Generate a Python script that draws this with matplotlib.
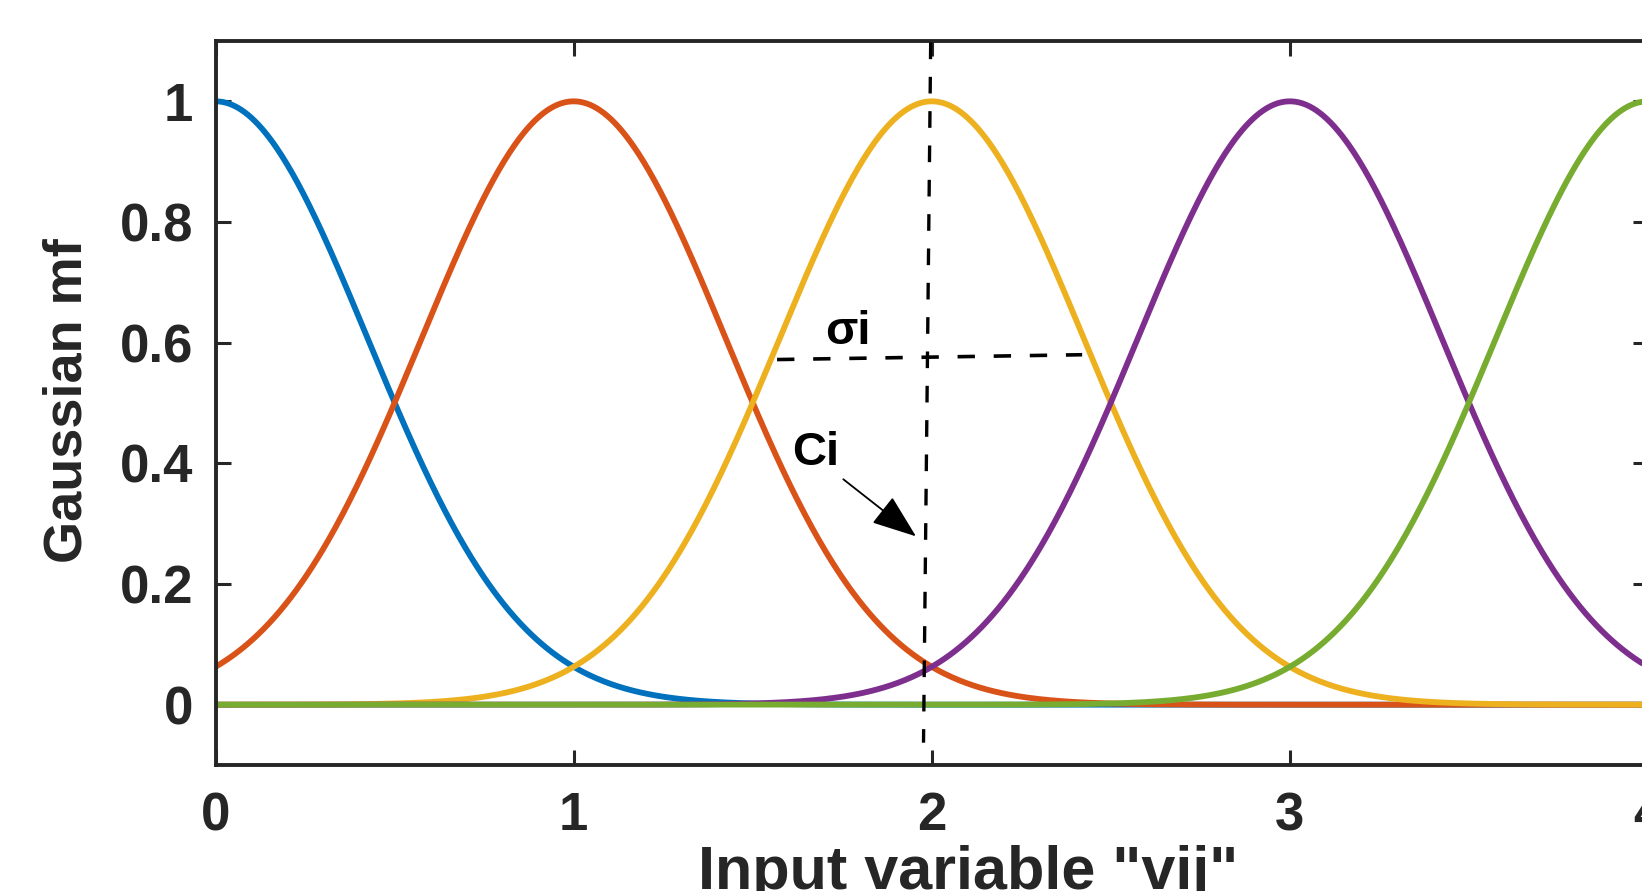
import numpy as np
import matplotlib.pyplot as plt
from matplotlib.ticker import FixedLocator, FixedFormatter

# === DATOS ===
centers = [0, 1, 2, 3, 4]          # centros de las funciones gaussianas
sigma = 0.425                      # ancho comun (cruce en 0.5)
colors = ['#0072BD', '#D95319', '#EDB120', '#7E2F8E', '#77AC30']
x_ticks = [0, 1, 2, 3, 4]
x_tick_labels = ['0', '1', '2', '3', '4']
y_ticks = [0, 0.2, 0.4, 0.6, 0.8, 1.0]
y_tick_labels = ['0', '0.2', '0.4', '0.6', '0.8', '1']

# anotaciones (coordenadas de datos)
ci_line = ([1.997, 1.977], [1.0975, -0.063])
sigma_line = ([1.568, 2.420], [0.572, 0.580])
sigma_text = (1.766, 0.617)
ci_text = (1.677, 0.4165)
arrow_tail = (1.753, 0.3736)
arrow_tip = (1.956, 0.279)

plt.rcParams['font.family'] = ['Liberation Sans', 'DejaVu Sans']
plt.rcParams['font.weight'] = 'bold'
TXT = '#262626'

fig = plt.figure(figsize=(16.42, 8.91), dpi=100)
ax = fig.add_axes([0.1313, 0.1414, 0.8723, 0.8126])

x = np.linspace(0, 4, 801)
for c, col in zip(centers, colors):
    ax.plot(x, np.exp(-(x - c) ** 2 / (2 * sigma ** 2)), color=col, lw=4.2,
            solid_capstyle='butt')

# lineas discontinuas de la anotacion
ax.plot(*ci_line, color='k', lw=2.4, linestyle=(0, (5.0, 5.3)), zorder=5)
ax.plot(*sigma_line, color='k', lw=2.6, linestyle=(0, (4.8, 5.2)), zorder=5)
ax.text(*sigma_text, '\u03c3i', fontsize=34, fontweight='bold', color='k',
        ha='center', va='center')
ax.text(*ci_text, 'Ci', fontsize=34, fontweight='bold', color='k',
        ha='center', va='center')
ax.annotate('', xy=arrow_tip, xytext=arrow_tail,
            arrowprops=dict(arrowstyle='-|>,head_length=2.0,head_width=0.75',
                            mutation_scale=14, lw=1.3, color='k',
                            shrinkA=0, shrinkB=0))

ax.set_xlim(0, 4)
ax.set_ylim(-0.1, 1.1)
ax.xaxis.set_major_locator(FixedLocator(x_ticks))
ax.xaxis.set_major_formatter(FixedFormatter(x_tick_labels))
ax.yaxis.set_major_locator(FixedLocator(y_ticks))
ax.yaxis.set_major_formatter(FixedFormatter(y_tick_labels))

ax.tick_params(axis='both', which='major', direction='in', length=11, width=2.2,
               color=TXT, labelcolor=TXT, labelsize=38, top=True, right=True)
ax.tick_params(axis='x', pad=19)
ax.tick_params(axis='y', pad=16)
for lab in ax.get_xticklabels() + ax.get_yticklabels():
    lab.set_fontweight('bold')
for sp in ax.spines.values():
    sp.set_color(TXT)
    sp.set_linewidth(2.8)

fig.text(67 / 1642, 1 - 401 / 891, 'Gaussian mf', rotation=90, fontsize=39,
         fontweight='bold', color=TXT, ha='center', va='center')
fig.text(968 / 1642, 2 / 891, 'Input variable "vij"', fontsize=44,
         fontweight='bold', color=TXT, ha='center', va='baseline')

fig.savefig('out.png', dpi=100)
